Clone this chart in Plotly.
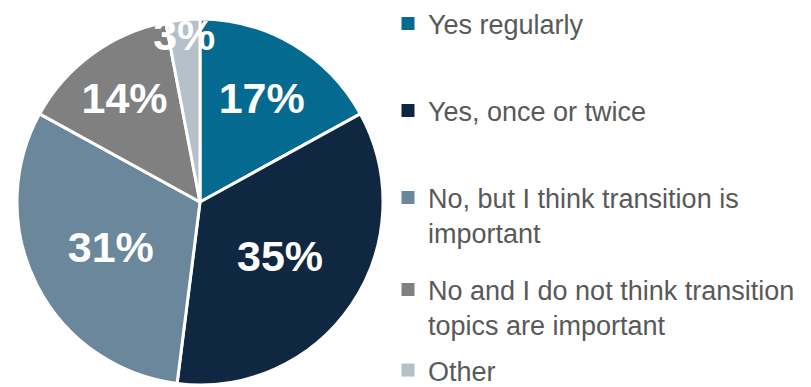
import plotly.graph_objects as go

# Survey answers and their shares (percent)
labels = [
    "Yes regularly",
    "Yes, once or twice",
    "No, but I think transition is<br>important",
    "No and I do not think transition<br>topics are important",
    "Other",
]
values = [17, 35, 31, 14, 3]
colors = ["#046A8F", "#0F2740", "#6A879C", "#808080", "#B5C0C9"]

# Top edge (px) of each legend entry in the right-hand column
legend_tops = [-0.6, 86.4, 173.4, 265.4, 346.0]

W, H = 811, 387

fig = go.Figure()

fig.add_trace(go.Pie(
    labels=labels,
    values=values,
    sort=False,
    direction="clockwise",
    rotation=0,
    marker=dict(colors=colors, line=dict(color="white", width=3)),
    texttemplate="%{percent:.0%}",
    textposition="inside",
    insidetextorientation="horizontal",
    textfont=dict(family="Liberation Sans, Arial, sans-serif", size=43, color="white", weight="bold"),
    domain=dict(x=[17 / W, 383 / W], y=[2 / H, 368 / H]),
    showlegend=False,
    hoverinfo="label+percent",
))

# One legend per category so entries sit in evenly spaced slots
legend_layout = {}
for i, (name, col, top) in enumerate(zip(labels, colors, legend_tops)):
    key = "legend" if i == 0 else f"legend{i + 1}"
    fig.add_trace(go.Scatter(
        x=[None], y=[None],
        mode="markers",
        name=name,
        marker=dict(symbol="square", size=13, color=col),
        legend=key,
        showlegend=True,
        hoverinfo="skip",
    ))
    legend_layout[key] = dict(
        x=388 / W, xanchor="left",
        y=1 - top / H, yanchor="top",
        valign="top",
        bgcolor="rgba(0,0,0,0)",
        font=dict(family="Liberation Sans, Arial, sans-serif", size=27, color="#595959"),
        itemclick=False, itemdoubleclick=False,
    )

fig.update_layout(
    width=W, height=H,
    margin=dict(l=0, r=0, t=0, b=0, autoexpand=False),
    paper_bgcolor="white",
    plot_bgcolor="white",
    uniformtext=dict(minsize=43, mode="show"),
    xaxis=dict(visible=False),
    yaxis=dict(visible=False),
    **legend_layout,
)

fig.write_html("out.html")
